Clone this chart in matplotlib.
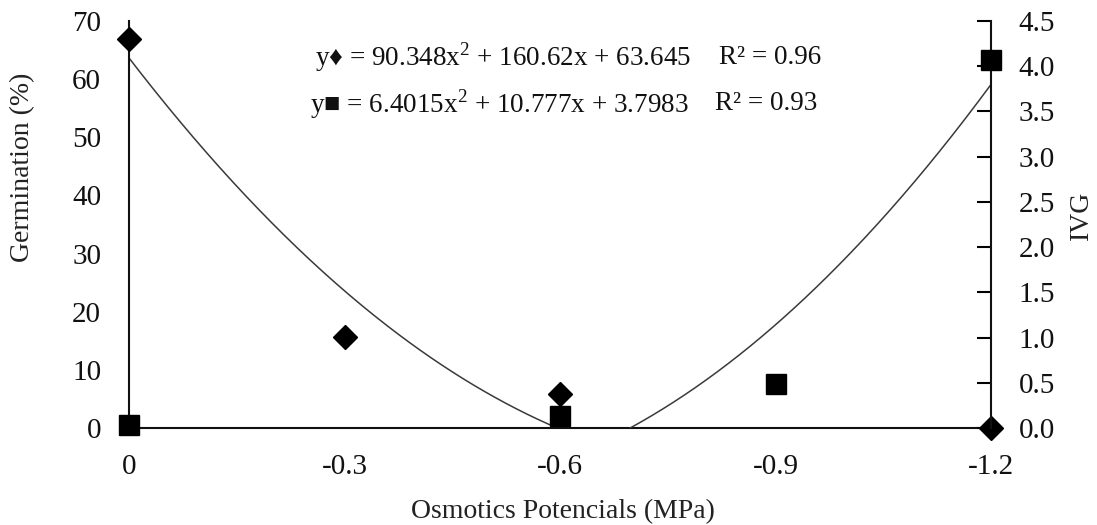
import numpy as np
import matplotlib
matplotlib.use("Agg")
import matplotlib.pyplot as plt

# Data
potentials = [0, -0.3, -0.6, -0.9, -1.2]
tick_labels = ["0", "-0.3", "-0.6", "-0.9", "-1.2"]
germ_x = [0, -0.3, -0.6, -1.2]
germination = [66.9, 15.7, 5.9, 0.0]
ivg_x = [0, -0.6, -0.9, -1.2]
ivg = [0.03, 0.13, 0.49, 4.07]
germ_coef = [90.348, 160.62, 63.645]
ivg_coef = [6.4015, 10.777, 3.7983]
germ_r2 = "0.96"
ivg_r2 = "0.93"

plt.rcParams['font.family'] = ['Liberation Serif', 'DejaVu Serif', 'DejaVu Sans']
plt.rcParams['mathtext.fontset'] = 'custom'
plt.rcParams['mathtext.rm'] = 'Liberation Serif'

W, H = 1097, 525
fig = plt.figure(figsize=(W / 100, H / 100), dpi=100)
ax = fig.add_axes([129 / W, 1 - 428 / H, (991 - 129) / W, (428 - 21) / H])
ax2 = ax.twinx()

ax.set_xlim(0, -1.2)
ax.set_ylim(0, 70)
ax2.set_ylim(0, 4.5)

curve_color = '#3a3a3a'
# germination trendline (from x = 0 to its first root)
g_end = max(np.roots(germ_coef).real)
xg = np.linspace(0, g_end, 200)
ax.plot(xg, np.polyval(germ_coef, xg), color=curve_color, lw=1.1, zorder=2)

# IVG trendline (mirrored: evaluated at -1.2 - x)
t_root = max(np.roots(ivg_coef).real)
xi = np.linspace(-1.2 - t_root, -1.2, 200)
ax2.plot(xi, np.polyval(ivg_coef, -1.2 - xi), color=curve_color, lw=1.1, zorder=2)

# markers
ax.plot(germ_x, germination, linestyle='none', marker='D', ms=12, color='black',
        clip_on=False, zorder=5)
ax2.plot(ivg_x, ivg, linestyle='none', marker='s', ms=15, color='black',
         clip_on=False, zorder=5)

for a in (ax, ax2):
    a.spines['top'].set_visible(False)
    for s in a.spines.values():
        s.set_linewidth(1.5)
        s.set_color('#111111')
ax.spines['right'].set_visible(False)
ax2.spines['left'].set_visible(False)
ax2.spines['bottom'].set_visible(False)

fs_tick = 21
ax.set_xticks(potentials)
ax.set_xticklabels(tick_labels)
ax.tick_params(axis='x', length=0, labelsize=fs_tick, pad=19, labelcolor='#111111')
ax.set_yticks(np.arange(0, 71, 10))
ax.tick_params(axis='y', length=0, labelsize=fs_tick, pad=20, labelcolor='#111111')
ivg_ticks = np.arange(0, 4.51, 0.5)
ax2.set_yticks(ivg_ticks)
ax2.set_yticklabels([f"{v:.1f}" for v in ivg_ticks])
ax2.tick_params(axis='y', direction='in', length=10, width=1.5, labelsize=fs_tick,
                pad=20, labelcolor='#111111')

fs_lab = 20
ax.set_xlabel("Osmotics Potencials (MPa)", fontsize=fs_lab, color='#222222')
ax.xaxis.label.set_va('center')
ax.xaxis.set_label_coords((563 - 129) / 862, (428 - 512) / 407)
ax.set_ylabel("Germination (%)", fontsize=fs_lab, color='#222222')
ax.yaxis.label.set_va('center')
ax.yaxis.set_label_coords((23 - 129) / 862, (428 - 167) / 407)
ax2.set_ylabel("IVG", fontsize=fs_lab, color='#222222', rotation=90)
ax2.yaxis.label.set_va('center')
ax2.yaxis.set_label_coords((1081 - 129) / 862, (428 - 215) / 407)

eq1 = f"y\u2666 = {germ_coef[0]:.3f}x$^2$ + {germ_coef[1]:.2f}x + {germ_coef[2]:.3f}"
eq2 = f"y\u25a0 = {ivg_coef[0]:.4f}x$^2$ + {ivg_coef[1]:.3f}x + {ivg_coef[2]:.4f}"
fs_eq = 19.5
fig.text(315 / W, 1 - 57 / H, eq1, fontsize=fs_eq, va='center', ha='left', color='#111111')
fig.text(719 / W, 1 - 57 / H, f"R² = {germ_r2}", fontsize=fs_eq, va='center', ha='left', color='#111111')
fig.text(310 / W, 1 - 104 / H, eq2, fontsize=fs_eq, va='center', ha='left', color='#111111')
fig.text(715 / W, 1 - 104 / H, f"R² = {ivg_r2}", fontsize=fs_eq, va='center', ha='left', color='#111111')

fig.savefig("out.png", dpi=100)
